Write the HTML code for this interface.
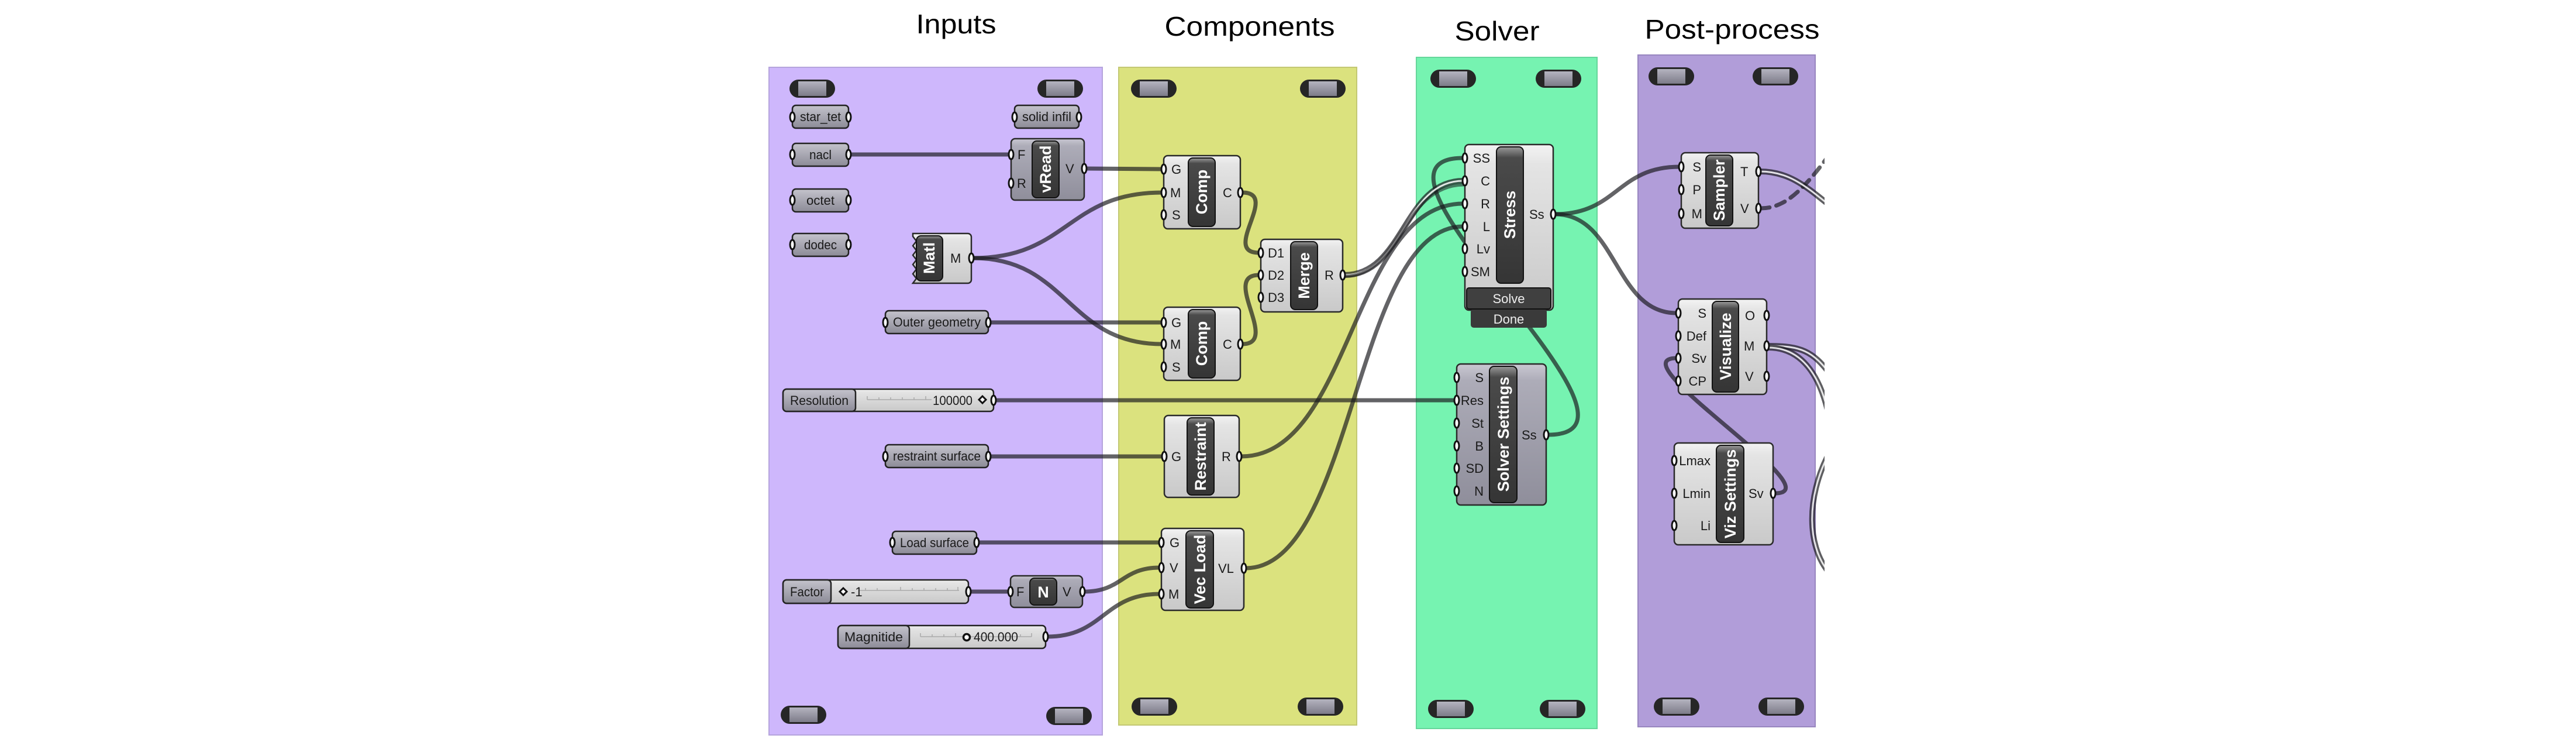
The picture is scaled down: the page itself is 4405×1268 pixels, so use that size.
<!DOCTYPE html>
<html><head><meta charset="utf-8"><style>
html,body{margin:0;padding:0;background:#fff;}
svg{display:block;}
text{font-family:"Liberation Sans",sans-serif;}
</style></head><body>
<svg width="4405" height="1268" viewBox="0 0 4405 1268" xmlns="http://www.w3.org/2000/svg">
<defs>
<linearGradient id="gl" x1="0" y1="0" x2="0" y2="1"><stop offset="0" stop-color="#f3f3f3"/><stop offset="0.12" stop-color="#e4e4e4"/><stop offset="1" stop-color="#c9c9c9"/></linearGradient>
<linearGradient id="gd" x1="0" y1="0" x2="0" y2="1"><stop offset="0" stop-color="#c9c8d2"/><stop offset="0.12" stop-color="#adacb8"/><stop offset="1" stop-color="#8f8e9b"/></linearGradient>
<linearGradient id="gp" x1="0" y1="0" x2="0" y2="1"><stop offset="0" stop-color="#c4c3cc"/><stop offset="1" stop-color="#8c8b97"/></linearGradient>
<linearGradient id="gb" x1="0" y1="0" x2="0" y2="1"><stop offset="0" stop-color="#9a9a9a"/><stop offset="0.08" stop-color="#4a4a4a"/><stop offset="1" stop-color="#353535"/></linearGradient>
<linearGradient id="gpill" x1="0" y1="0" x2="0" y2="1"><stop offset="0" stop-color="#b4b3bf"/><stop offset="1" stop-color="#7d7c89"/></linearGradient>
<clipPath id="clipR"><rect x="0" y="0" width="3120" height="1268"/></clipPath>
</defs>

<text x="1635" y="57" font-size="46" text-anchor="middle" textLength="137" lengthAdjust="spacingAndGlyphs">Inputs</text>
<text x="2137" y="61" font-size="46" text-anchor="middle" textLength="291" lengthAdjust="spacingAndGlyphs">Components</text>
<text x="2560" y="69" font-size="46" text-anchor="middle" textLength="145" lengthAdjust="spacingAndGlyphs">Solver</text>
<text x="2962" y="66" font-size="46" text-anchor="middle" textLength="299" lengthAdjust="spacingAndGlyphs">Post-process</text>

<rect x="1315" y="115" width="570" height="1141" fill="#ceb7fc" stroke="#b5a4dc" stroke-width="2"/>
<rect x="1913" y="115" width="407" height="1124" fill="#dbe27e" stroke="#c3c873" stroke-width="2"/>
<rect x="2422" y="98" width="309" height="1147" fill="#76f3b1" stroke="#66d69b" stroke-width="2"/>
<rect x="2801" y="94" width="303" height="1148" fill="#b19dd9" stroke="#9886bf" stroke-width="2"/>

<g id="pills">
<g transform="translate(1350,136)"><rect width="78" height="31" rx="15.5" fill="#262626"/><rect x="15" y="3" width="48" height="25" fill="url(#gpill)"/></g>
<g transform="translate(1774,136)"><rect width="78" height="31" rx="15.5" fill="#262626"/><rect x="15" y="3" width="48" height="25" fill="url(#gpill)"/></g>
<g transform="translate(1335,1206)"><rect width="78" height="31" rx="15.5" fill="#262626"/><rect x="15" y="3" width="48" height="25" fill="url(#gpill)"/></g>
<g transform="translate(1789,1208)"><rect width="78" height="31" rx="15.5" fill="#262626"/><rect x="15" y="3" width="48" height="25" fill="url(#gpill)"/></g>
<g transform="translate(1934,136)"><rect width="78" height="31" rx="15.5" fill="#262626"/><rect x="15" y="3" width="48" height="25" fill="url(#gpill)"/></g>
<g transform="translate(2223,136)"><rect width="78" height="31" rx="15.5" fill="#262626"/><rect x="15" y="3" width="48" height="25" fill="url(#gpill)"/></g>
<g transform="translate(1935,1192)"><rect width="78" height="31" rx="15.5" fill="#262626"/><rect x="15" y="3" width="48" height="25" fill="url(#gpill)"/></g>
<g transform="translate(2219,1192)"><rect width="78" height="31" rx="15.5" fill="#262626"/><rect x="15" y="3" width="48" height="25" fill="url(#gpill)"/></g>
<g transform="translate(2446,119)"><rect width="78" height="31" rx="15.5" fill="#262626"/><rect x="15" y="3" width="48" height="25" fill="url(#gpill)"/></g>
<g transform="translate(2626,119)"><rect width="78" height="31" rx="15.5" fill="#262626"/><rect x="15" y="3" width="48" height="25" fill="url(#gpill)"/></g>
<g transform="translate(2442,1196)"><rect width="78" height="31" rx="15.5" fill="#262626"/><rect x="15" y="3" width="48" height="25" fill="url(#gpill)"/></g>
<g transform="translate(2633,1196)"><rect width="78" height="31" rx="15.5" fill="#262626"/><rect x="15" y="3" width="48" height="25" fill="url(#gpill)"/></g>
<g transform="translate(2819,115)"><rect width="78" height="31" rx="15.5" fill="#262626"/><rect x="15" y="3" width="48" height="25" fill="url(#gpill)"/></g>
<g transform="translate(2997,115)"><rect width="78" height="31" rx="15.5" fill="#262626"/><rect x="15" y="3" width="48" height="25" fill="url(#gpill)"/></g>
<g transform="translate(2828,1192)"><rect width="78" height="31" rx="15.5" fill="#262626"/><rect x="15" y="3" width="48" height="25" fill="url(#gpill)"/></g>
<g transform="translate(3007,1192)"><rect width="78" height="31" rx="15.5" fill="#262626"/><rect x="15" y="3" width="48" height="25" fill="url(#gpill)"/></g>
</g>

<g clip-path="url(#clipR)" fill="none" stroke-linecap="round">
<g stroke="rgba(25,25,30,0.68)" stroke-width="7">
<path d="M1455 264 L1729 264"/>
<path d="M1857 288 L1987 289"/>
<path d="M1664 441 C1826 441 1825 329 1987 329"/>
<path d="M1664 441 C1826 441 1825 588 1987 588"/>
<path d="M1693 551 L1987 551"/>
<path d="M2124 329 C2190 329 2087 432 2153 432"/>
<path d="M2124 588 C2190 588 2087 470 2153 470"/>
<path d="M1702 684 L2488 684"/>
<path d="M2122 780 C2312 780 2312 348 2502 348"/>
<path d="M2130 971 C2316 971 2316 387 2502 387"/>
<path d="M2647 743 C2870 743 2280 270 2502 270"/>
<path d="M2659 366 C2766 366 2765 285 2872 285"/>
<path d="M2659 366 C2766 366 2760 535 2867 535"/>
<path d="M3035 843 C3140 843 2762 612 2867 612"/>
<path d="M1659 1011 L1725 1011"/>
<path d="M1854 1011 C1919 1011 1918 970 1983 970"/>
<path d="M1791 1088 C1887 1088 1887 1015 1983 1015"/>
<path d="M1673 927 L1983 927"/>
<path d="M1693 780 L1988 780"/>
<path d="M3010 356 C3050 356 3080 330 3130 262" stroke-dasharray="16 12"/>
</g>
<g>
<path d="M2299 470 C2401 470 2400 309 2502 309" stroke="rgba(25,25,30,0.7)" stroke-width="10"/>
<path d="M2299 470 C2401 470 2400 309 2502 309" stroke="#fff" stroke-width="3" opacity="0.85"/>
<path d="M2299 472 C2395 472 2398 318 2502 316" stroke="rgba(25,25,30,0.55)" stroke-width="5"/>
<path d="M3010 293 C3060 293 3090 320 3130 352" stroke="rgba(25,25,30,0.7)" stroke-width="10"/>
<path d="M3010 293 C3060 293 3090 320 3130 352" stroke="#fff" stroke-width="3" opacity="0.85"/>
<path d="M3024 591 C3080 591 3100 600 3130 640" stroke="rgba(25,25,30,0.7)" stroke-width="10"/>
<path d="M3024 591 C3080 591 3100 600 3130 640" stroke="#fff" stroke-width="3" opacity="0.85"/>
<path d="M3024 594 C3080 594 3110 640 3125 700" stroke="rgba(25,25,30,0.7)" stroke-width="10"/>
<path d="M3024 594 C3080 594 3110 640 3125 700" stroke="#fff" stroke-width="3" opacity="0.85"/>
<path d="M3125 780 C3090 850 3090 930 3125 975" stroke="rgba(25,25,30,0.7)" stroke-width="10"/>
<path d="M3125 780 C3090 850 3090 930 3125 975" stroke="#fff" stroke-width="3" opacity="0.85"/>
</g>
</g>

<g font-size="22" fill="#1a1a1a" text-anchor="middle">
<g stroke="#222" stroke-width="2.5" fill="url(#gp)">
<rect x="1355" y="180" width="96" height="39" rx="6"/>
<rect x="1735" y="180" width="110" height="39" rx="6"/>
<rect x="1355" y="245" width="96" height="39" rx="6"/>
<rect x="1355" y="323" width="96" height="39" rx="6"/>
<rect x="1355" y="399" width="96" height="39" rx="6"/>
<rect x="1514" y="531" width="176" height="39" rx="6"/>
<rect x="1514" y="760" width="176" height="39" rx="6"/>
<rect x="1526" y="908" width="144" height="39" rx="6"/>
</g>
<text x="1403" y="207" textLength="70" lengthAdjust="spacingAndGlyphs">star_tet</text>
<text x="1790" y="207" textLength="84" lengthAdjust="spacingAndGlyphs">solid infil</text>
<text x="1403" y="272" textLength="38" lengthAdjust="spacingAndGlyphs">nacl</text>
<text x="1403" y="350" textLength="48" lengthAdjust="spacingAndGlyphs">octet</text>
<text x="1403" y="426" textLength="56" lengthAdjust="spacingAndGlyphs">dodec</text>
<text x="1602" y="558" textLength="150" lengthAdjust="spacingAndGlyphs">Outer geometry</text>
<text x="1602" y="787" textLength="150" lengthAdjust="spacingAndGlyphs">restraint surface</text>
<text x="1598" y="935" textLength="118" lengthAdjust="spacingAndGlyphs">Load surface</text>
</g>

<g stroke="#222" stroke-width="2.5">
<rect x="1339" y="665" width="360" height="38" rx="6" fill="url(#gl)"/>
<rect x="1339" y="665" width="124" height="38" rx="6" fill="url(#gp)"/>
<rect x="1339" y="991" width="317" height="40" rx="6" fill="url(#gl)"/>
<rect x="1339" y="991" width="82" height="40" rx="6" fill="url(#gp)"/>
<rect x="1433" y="1069" width="355" height="39" rx="6" fill="url(#gl)"/>
<rect x="1433" y="1069" width="122" height="39" rx="6" fill="url(#gp)"/>
</g>
<g stroke="#aaa" stroke-width="1.5" fill="none">
<path d="M1483 683 h110 M1483 677 v6 M1503 679 v4 M1523 679 v4 M1543 679 v4 M1563 679 v4 M1583 677 v6"/>
<path d="M1470 1009 h170 M1480 1005 v4 M1500 1005 v4 M1540 1003 v6 M1560 1005 v4 M1580 1005 v4 M1600 1005 v4 M1620 1005 v4 M1638 1003 v6"/>
<path d="M1574 1088 h190 M1574 1082 v6 M1594 1084 v4 M1614 1084 v4 M1634 1082 v6 M1745 1084 v4 M1764 1082 v6"/>
</g>
<g font-size="22" fill="#1a1a1a">
<text x="1401" y="692" text-anchor="middle" textLength="100" lengthAdjust="spacingAndGlyphs">Resolution</text>
<text x="1663" y="692" text-anchor="end" textLength="68" lengthAdjust="spacingAndGlyphs">100000</text>
<text x="1380" y="1019" text-anchor="middle" textLength="58" lengthAdjust="spacingAndGlyphs">Factor</text>
<text x="1494" y="1096" text-anchor="middle" textLength="100" lengthAdjust="spacingAndGlyphs">Magnitide</text>
<text x="1665" y="1096" textLength="76" lengthAdjust="spacingAndGlyphs">400.000</text>
<text x="1455" y="1019">-1</text>
</g>
<path d="M1680 677 l6 6 l-6 6 l-6 -6z" fill="#fff" stroke="#111" stroke-width="3"/>
<path d="M1442 1005 l6 6 l-6 6 l-6 -6z" fill="#fff" stroke="#111" stroke-width="3"/>
<circle cx="1653" cy="1089" r="5.5" fill="#fff" stroke="#111" stroke-width="3.5"/>

<g stroke="#2a2a2a" stroke-width="2.5">
<rect x="1990" y="266" width="131" height="125" rx="7" fill="url(#gl)"/>
<rect x="2156" y="409" width="140" height="124" rx="7" fill="url(#gl)"/>
<rect x="1990" y="525" width="131" height="125" rx="7" fill="url(#gl)"/>
<rect x="1991" y="710" width="128" height="140" rx="7" fill="url(#gl)"/>
<rect x="1986" y="903" width="141" height="140" rx="7" fill="url(#gl)"/>
<rect x="1729" y="237" width="125" height="105" rx="7" fill="url(#gd)"/>
<path d="M1561 399 H1655 a6 6 0 0 1 6 6 V478 a6 6 0 0 1 -6 6 H1561 l6 -8 l-6 -8 l6 -8 l-6 -8 l6 -8 l-6 -8 l6 -8 l-6 -8 l6 -8 l-6 -8 z" fill="url(#gl)"/>
<rect x="1728" y="984" width="123" height="54" rx="7" fill="url(#gd)"/>
<rect x="2505" y="247" width="151" height="283" rx="7" fill="url(#gl)"/>
<rect x="2491" y="622" width="153" height="241" rx="7" fill="url(#gd)"/>
<rect x="2875" y="261" width="132" height="129" rx="7" fill="url(#gl)"/>
<rect x="2870" y="511" width="151" height="163" rx="7" fill="url(#gl)"/>
<rect x="2863" y="757" width="169" height="174" rx="7" fill="url(#gl)"/>
</g>
<rect x="2515" y="528" width="130" height="32" rx="5" fill="#3a3a3a"/>
<rect x="2508" y="492" width="144" height="36" rx="4" fill="#404040" stroke="#111" stroke-width="2"/>
<g font-size="22" fill="#eee" text-anchor="middle">
<text x="2580" y="518">Solve</text>
<text x="2580" y="553">Done</text>
</g>
<g fill="url(#gb)" stroke="#111" stroke-width="2">
<rect x="2032" y="270" width="46" height="117" rx="8"/>
<rect x="2207" y="413" width="46" height="116" rx="8"/>
<rect x="2032" y="529" width="46" height="117" rx="8"/>
<rect x="2030" y="714" width="46" height="132" rx="8"/>
<rect x="2028" y="907" width="47" height="132" rx="8"/>
<rect x="1765" y="241" width="46" height="97" rx="8"/>
<rect x="1567" y="403" width="45" height="77" rx="8"/>
<rect x="1761" y="988" width="46" height="46" rx="8"/>
<rect x="2559" y="251" width="46" height="233" rx="8"/>
<rect x="2547" y="626" width="47" height="233" rx="8"/>
<rect x="2917" y="265" width="46" height="121" rx="8"/>
<rect x="2928" y="515" width="45" height="155" rx="8"/>
<rect x="2935" y="761" width="47" height="166" rx="8"/>
</g>
<g font-size="27" font-weight="bold" fill="#fff" text-anchor="middle">
<text transform="translate(2064,328) rotate(-90)">Comp</text>
<text transform="translate(2239,471) rotate(-90)">Merge</text>
<text transform="translate(2064,587) rotate(-90)">Comp</text>
<text transform="translate(2062,780) rotate(-90)">Restraint</text>
<text transform="translate(2061,973) rotate(-90)">Vec Load</text>
<text transform="translate(1797,289) rotate(-90)">vRead</text>
<text transform="translate(1598,441) rotate(-90)">Matl</text>
<text x="1784" y="1021">N</text>
<text transform="translate(2591,367) rotate(-90)">Stress</text>
<text transform="translate(2580,742) rotate(-90)">Solver Settings</text>
<text transform="translate(2949,325) rotate(-90)" textLength="105" lengthAdjust="spacingAndGlyphs">Sampler</text>
<text transform="translate(2960,592) rotate(-90)">Visualize</text>
<text transform="translate(2968,844) rotate(-90)">Viz Settings</text>
</g>
<g font-size="22" fill="#1a1a1a">
<text x="2003" y="297">G</text><text x="2001" y="337">M</text><text x="2004" y="375">S</text><text x="2091" y="337">C</text>
<text x="2168" y="440">D1</text><text x="2168" y="478">D2</text><text x="2168" y="516">D3</text><text x="2265" y="478">R</text>
<text x="2003" y="559">G</text><text x="2001" y="596">M</text><text x="2004" y="635">S</text><text x="2091" y="596">C</text>
<text x="2003" y="788">G</text><text x="2089" y="788">R</text>
<text x="2000" y="935">G</text><text x="2000" y="978">V</text><text x="1998" y="1023">M</text><text x="2083" y="979">VL</text>
<text x="1740" y="272">F</text><text x="1739" y="321">R</text><text x="1822" y="296">V</text>
<text x="1625" y="449">M</text>
<text x="1738" y="1019">F</text><text x="1817" y="1019">V</text>
<g text-anchor="end">
<text x="2548" y="278">SS</text><text x="2548" y="317">C</text><text x="2548" y="356">R</text><text x="2548" y="395">L</text><text x="2548" y="433">Lv</text><text x="2548" y="472">SM</text>
<text x="2537" y="653">S</text><text x="2537" y="692">Res</text><text x="2537" y="731">St</text><text x="2537" y="770">B</text><text x="2537" y="808">SD</text><text x="2537" y="847">N</text>
<text x="2909" y="293">S</text><text x="2909" y="332">P</text><text x="2911" y="373">M</text>
<text x="2918" y="543">S</text><text x="2918" y="582">Def</text><text x="2918" y="620">Sv</text><text x="2918" y="659">CP</text>
<text x="2925" y="795">Lmax</text><text x="2925" y="851">Lmin</text><text x="2925" y="906">Li</text>
</g>
<text x="2615" y="374">Ss</text><text x="2602" y="751">Ss</text>
<text x="2976" y="301">T</text><text x="2976" y="364">V</text>
<text x="2984" y="547">O</text><text x="2982" y="599">M</text><text x="2984" y="651">V</text>
<text x="2990" y="851">Sv</text>
</g>

<g fill="#fff" stroke="#111" stroke-width="3">
<ellipse cx="1355" cy="200" rx="4" ry="8"/><ellipse cx="1451" cy="200" rx="4" ry="8"/>
<ellipse cx="1735" cy="200" rx="4" ry="8"/><ellipse cx="1845" cy="200" rx="4" ry="8"/>
<ellipse cx="1355" cy="264" rx="4" ry="8"/><ellipse cx="1451" cy="264" rx="4" ry="8"/>
<ellipse cx="1355" cy="342" rx="4" ry="8"/><ellipse cx="1451" cy="342" rx="4" ry="8"/>
<ellipse cx="1355" cy="418" rx="4" ry="8"/><ellipse cx="1451" cy="418" rx="4" ry="8"/>
<ellipse cx="1514" cy="551" rx="4" ry="8"/><ellipse cx="1690" cy="551" rx="4" ry="8"/>
<ellipse cx="1514" cy="780" rx="4" ry="8"/><ellipse cx="1690" cy="780" rx="4" ry="8"/>
<ellipse cx="1526" cy="927" rx="4" ry="8"/><ellipse cx="1670" cy="927" rx="4" ry="8"/>
<ellipse cx="1699" cy="684" rx="4" ry="8"/><ellipse cx="1656" cy="1011" rx="4" ry="8"/><ellipse cx="1788" cy="1088" rx="4" ry="8"/>
<ellipse cx="1729" cy="264" rx="4" ry="8"/><ellipse cx="1729" cy="313" rx="4" ry="8"/><ellipse cx="1854" cy="288" rx="4" ry="8"/>
<ellipse cx="1661" cy="441" rx="4" ry="8"/>
<ellipse cx="1728" cy="1011" rx="4" ry="8"/><ellipse cx="1851" cy="1011" rx="4" ry="8"/>
<ellipse cx="1990" cy="289" rx="4" ry="8"/><ellipse cx="1990" cy="329" rx="4" ry="8"/><ellipse cx="1990" cy="367" rx="4" ry="8"/><ellipse cx="2121" cy="329" rx="4" ry="8"/>
<ellipse cx="2156" cy="432" rx="4" ry="8"/><ellipse cx="2156" cy="470" rx="4" ry="8"/><ellipse cx="2156" cy="508" rx="4" ry="8"/><ellipse cx="2296" cy="470" rx="4" ry="8"/>
<ellipse cx="1990" cy="551" rx="4" ry="8"/><ellipse cx="1990" cy="588" rx="4" ry="8"/><ellipse cx="1990" cy="627" rx="4" ry="8"/><ellipse cx="2121" cy="588" rx="4" ry="8"/>
<ellipse cx="1991" cy="780" rx="4" ry="8"/><ellipse cx="2119" cy="780" rx="4" ry="8"/>
<ellipse cx="1986" cy="927" rx="4" ry="8"/><ellipse cx="1986" cy="970" rx="4" ry="8"/><ellipse cx="1986" cy="1015" rx="4" ry="8"/><ellipse cx="2127" cy="971" rx="4" ry="8"/>
<ellipse cx="2505" cy="270" rx="4" ry="8"/><ellipse cx="2505" cy="309" rx="4" ry="8"/><ellipse cx="2505" cy="348" rx="4" ry="8"/><ellipse cx="2505" cy="387" rx="4" ry="8"/><ellipse cx="2505" cy="425" rx="4" ry="8"/><ellipse cx="2505" cy="464" rx="4" ry="8"/><ellipse cx="2656" cy="366" rx="4" ry="8"/>
<ellipse cx="2491" cy="645" rx="4" ry="8"/><ellipse cx="2491" cy="684" rx="4" ry="8"/><ellipse cx="2491" cy="723" rx="4" ry="8"/><ellipse cx="2491" cy="762" rx="4" ry="8"/><ellipse cx="2491" cy="800" rx="4" ry="8"/><ellipse cx="2491" cy="839" rx="4" ry="8"/><ellipse cx="2644" cy="743" rx="4" ry="8"/>
<ellipse cx="2875" cy="285" rx="4" ry="8"/><ellipse cx="2875" cy="324" rx="4" ry="8"/><ellipse cx="2875" cy="365" rx="4" ry="8"/><ellipse cx="3007" cy="293" rx="4" ry="8"/><ellipse cx="3007" cy="356" rx="4" ry="8"/>
<ellipse cx="2870" cy="535" rx="4" ry="8"/><ellipse cx="2870" cy="574" rx="4" ry="8"/><ellipse cx="2870" cy="612" rx="4" ry="8"/><ellipse cx="2870" cy="651" rx="4" ry="8"/><ellipse cx="3021" cy="539" rx="4" ry="8"/><ellipse cx="3021" cy="591" rx="4" ry="8"/><ellipse cx="3021" cy="643" rx="4" ry="8"/>
<ellipse cx="2863" cy="787" rx="4" ry="8"/><ellipse cx="2863" cy="843" rx="4" ry="8"/><ellipse cx="2863" cy="898" rx="4" ry="8"/><ellipse cx="3032" cy="843" rx="4" ry="8"/>
</g>
</svg>
</body></html>
